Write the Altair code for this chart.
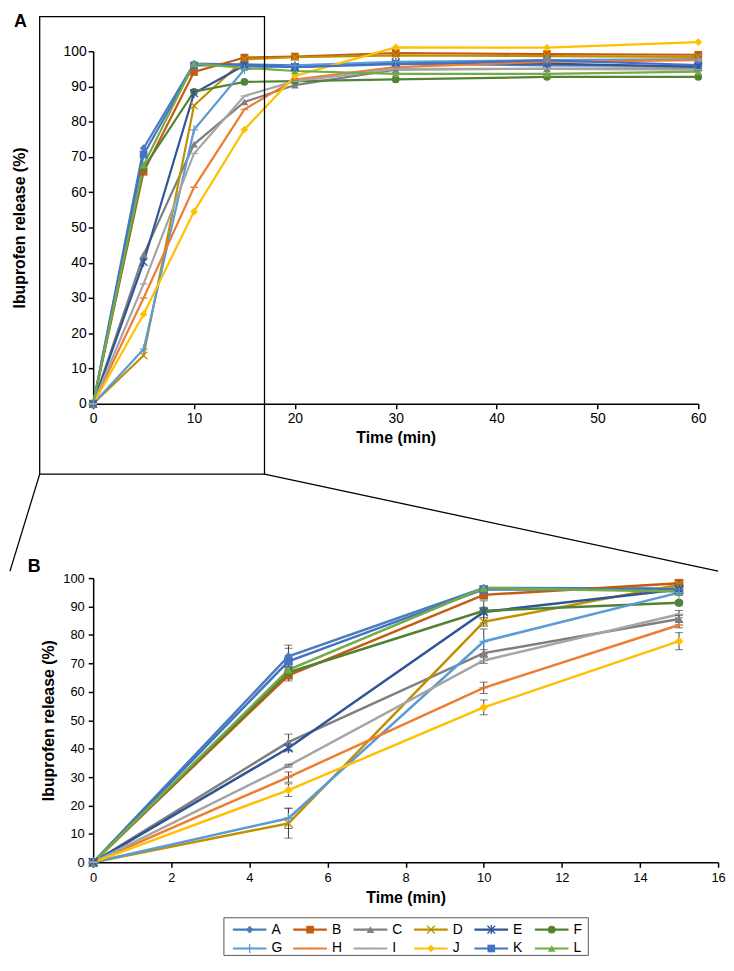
import altair as alt
import pandas as pd

FONT = "Liberation Sans"

series = ["A", "B", "C", "D", "E", "F", "G", "H", "I", "J", "K", "L"]
colors = ["#4A7EBB", "#C55A11", "#7F7F7F", "#BF9000", "#2F5597", "#548235",
          "#5B9BD5", "#ED7D31", "#A5A5A5", "#FFC000", "#4472C4", "#70AD47"]

times = [0, 5, 10, 15, 20, 30, 45, 60]
rel_A = [0, 72.5, 96.5, 96.3, 96.0, 96.5, 96.0, 95.8]
rel_B = [0, 65.8, 94.1, 98.2, 98.5, 99.5, 99.2, 99.0]
rel_C = [0, 42.3, 73.6, 85.6, 90.4, 94.8, 95.0, 95.2]
rel_D = [0, 13.7, 84.6, 97.7, 98.3, 98.8, 98.6, 98.4]
rel_E = [0, 40.2, 88.1, 96.0, 95.5, 96.8, 96.5, 95.6]
rel_F = [0, 66.8, 88.5, 91.3, 91.5, 92.0, 92.7, 92.7]
rel_G = [0, 15.5, 77.7, 94.9, 96.0, 97.0, 97.5, 97.8]
rel_H = [0, 30.0, 61.4, 83.5, 92.0, 95.5, 97.0, 97.5]
rel_I = [0, 34.0, 71.0, 87.3, 91.5, 95.0, 95.0, 94.8]
rel_J = [0, 25.4, 54.5, 77.8, 93.0, 101.1, 101.0, 102.6]
rel_K = [0, 70.7, 96.0, 96.1, 95.5, 96.3, 97.4, 96.1]
rel_L = [0, 67.7, 96.5, 95.3, 94.4, 93.6, 93.6, 94.2]

err_times = [5, 10, 15]
err_A = [3.9, 0.6, 0.8]
err_B = [2.0, 1.5, 0.6]
err_C = [2.8, 1.2, 1.2]
err_D = [5.2, 1.5, 0.8]
err_E = [1.0, 3.9, 0.8]
err_F = [1.5, 1.2, 0.8]
err_G = [3.6, 4.4, 1.0]
err_H = [1.8, 2.0, 1.0]
err_I = [0.5, 1.0, 1.3]
err_J = [2.2, 2.6, 3.0]
err_K = [4.6, 0.6, 0.8]
err_L = [1.2, 0.6, 0.8]

x_ticks_a = [0, 10, 20, 30, 40, 50, 60]
x_ticks_b = [0, 2, 4, 6, 8, 10, 12, 14, 16]
y_ticks = [0, 10, 20, 30, 40, 50, 60, 70, 80, 90, 100]

X_PATH = "M-1,-1L1,1M-1,1L1,-1"
AST_PATH = "M-1,-1L1,1M-1,1L1,-1M0,-1.2L0,1.2"
PLUS_PATH = "M-1,0L1,0M0,-1.2L0,1.2"
DASH_PATH = "M-1,0L1,0"
shapes = ["diamond", "square", "triangle-up", X_PATH, AST_PATH, "circle",
          PLUS_PATH, DASH_PATH, DASH_PATH, "diamond", "square", "triangle-up"]
filled_series = ["A", "B", "C", "F", "J", "K", "L"]
open_series = ["D", "E", "G", "H", "I"]

leg_col = [0, 1, 2, 3, 4, 5, 0, 1, 2, 3, 4, 5]
leg_row = [0, 0, 0, 0, 0, 0, 1, 1, 1, 1, 1, 1]

rel_lists = [rel_A, rel_B, rel_C, rel_D, rel_E, rel_F, rel_G, rel_H, rel_I, rel_J, rel_K, rel_L]
err_lists = [err_A, err_B, err_C, err_D, err_E, err_F, err_G, err_H, err_I, err_J, err_K, err_L]

rows = []
for s, vals in zip(series, rel_lists):
    for t, v in zip(times, vals):
        rows.append({"series": s, "time": t, "release": v})
df = pd.DataFrame(rows)
df_b = df[df["time"] <= 15].reset_index(drop=True)

erows = []
for s, vals, errs in zip(series, rel_lists, err_lists):
    for t, e in zip(err_times, errs):
        v = vals[times.index(t)]
        erows.append({"series": s, "time": t, "lo": v - e, "hi": v + e})
df_err = pd.DataFrame(erows)

df_leg = pd.DataFrame({"series": series, "col": leg_col, "row": leg_row})

color_enc = alt.Color("series:N", scale=alt.Scale(domain=series, range=colors), legend=None)
shape_enc = alt.Shape("series:N", scale=alt.Scale(domain=series, range=shapes), legend=None)


def x_axis(ticks, fs, lpad, tpad):
    return alt.Axis(values=ticks, title="Time (min)", tickSize=5, tickWidth=1.5,
                    domainWidth=1.5, labelFontSize=fs, labelPadding=lpad,
                    titleFontSize=16, titleFontWeight="bold", titlePadding=tpad,
                    labelFlush=False, labelOverlap=False, grid=False)


def y_axis(fs, lpad, tpad):
    return alt.Axis(values=y_ticks, title="Ibuprofen release (%)", tickSize=5, tickWidth=1.5,
                    domainWidth=1.5, labelFontSize=fs, labelPadding=lpad,
                    titleFontSize=16, titleFontWeight="bold", titlePadding=tpad,
                    labelFlush=False, labelOverlap=False, grid=False)


def series_layers(data, x, y, lw, msize, swidth):
    base = alt.Chart(data).encode(x=x, y=y, color=color_enc)
    line = base.mark_line(strokeWidth=lw)
    pf = base.transform_filter(
        alt.FieldOneOfPredicate(field="series", oneOf=filled_series)
    ).mark_point(filled=True, opacity=1, size=msize).encode(shape=shape_enc)
    po = base.transform_filter(
        alt.FieldOneOfPredicate(field="series", oneOf=open_series)
    ).mark_point(filled=False, opacity=1, size=msize, strokeWidth=swidth).encode(shape=shape_enc)
    return line, pf, po


one = alt.Data(values=[{"k": 0}])

# ---------- Panel A ----------
xsa = alt.Scale(domain=[0, 60], nice=False, zero=False)
ysa = alt.Scale(domain=[0, 100], nice=False)
xa = alt.X("time:Q", scale=xsa, axis=x_axis(x_ticks_a, 14, 3, 4))
ya = alt.Y("release:Q", scale=ysa, axis=y_axis(14, 2, 36))
la, pfa, poa = series_layers(df, xa, ya, 2.2, 60, 1.3)

box = alt.Chart(one).mark_rect(fillOpacity=0, stroke="black", strokeWidth=1.3).encode(
    x=alt.value(-54), x2=alt.value(173), y=alt.value(-35), y2=alt.value(427))
conn_l = alt.Chart(one).mark_rule(color="black", strokeWidth=1.3).encode(
    x=alt.value(-54), y=alt.value(427), x2=alt.value(-84), y2=alt.value(525))
conn_r = alt.Chart(one).mark_rule(color="black", strokeWidth=1.3).encode(
    x=alt.value(173), y=alt.value(427), x2=alt.value(631), y2=alt.value(525))
lab_a = alt.Chart(one).mark_text(fontSize=18, fontWeight="bold", align="left",
                                 baseline="top", font=FONT).encode(
    x=alt.value(-80), y=alt.value(-38), text=alt.value("A"))

panel_a = alt.layer(la, pfa, poa, box, conn_l, conn_r, lab_a).properties(width=611, height=356)

# ---------- Panel B ----------
xsb = alt.Scale(domain=[0, 16], nice=False, zero=False)
ysb = alt.Scale(domain=[0, 100], nice=False)
ax_xb = x_axis(x_ticks_b, 13, 4, 6)
ax_yb = y_axis(13, 4, 6)
xb = alt.X("time:Q", scale=xsb, axis=ax_xb)
yb = alt.Y("release:Q", scale=ysb, axis=ax_yb)
lb, pfb, pob = series_layers(df_b, xb, yb, 2.5, 75, 1.4)

err_rule = alt.Chart(df_err).mark_rule(color="#404040", strokeWidth=1).encode(
    x=alt.X("time:Q", scale=xsb, axis=ax_xb),
    y=alt.Y("lo:Q", scale=ysb, axis=ax_yb), y2="hi:Q")
err_lo = alt.Chart(df_err).mark_tick(color="#404040", thickness=1, size=8, orient="horizontal").encode(
    x=alt.X("time:Q", scale=xsb, axis=ax_xb),
    y=alt.Y("lo:Q", scale=ysb, axis=ax_yb))
err_hi = alt.Chart(df_err).mark_tick(color="#404040", thickness=1, size=8, orient="horizontal").encode(
    x=alt.X("time:Q", scale=xsb, axis=ax_xb),
    y=alt.Y("hi:Q", scale=ysb, axis=ax_yb))
lab_b = alt.Chart(one).mark_text(fontSize=18, fontWeight="bold", align="left",
                                 baseline="top", font=FONT).encode(
    x=alt.value(-66), y=alt.value(-20), text=alt.value("B"))

panel_b = alt.layer(lb, err_rule, err_lo, err_hi, pfb, pob, lab_b).properties(width=631, height=287)

# ---------- Legend ----------
lxs = alt.Scale(domain=[0, 6], range=[141, 507])
lys = alt.Scale(domain=[0, 1], range=[12, 31])
leg_base = alt.Chart(df_leg).transform_calculate(
    x1="datum.col + 0.557", xm="datum.col + 0.279", xt="datum.col + 0.64")
leg_stub = leg_base.mark_rule(strokeWidth=2.2).encode(
    x=alt.X("col:Q", scale=lxs, axis=None), x2="x1:Q",
    y=alt.Y("row:Q", scale=lys, axis=None), color=color_enc)
leg_pf = leg_base.transform_filter(
    alt.FieldOneOfPredicate(field="series", oneOf=filled_series)
).mark_point(filled=True, opacity=1, size=60).encode(
    x=alt.X("xm:Q", scale=lxs, axis=None), y=alt.Y("row:Q", scale=lys, axis=None),
    color=color_enc, shape=shape_enc)
leg_po = leg_base.transform_filter(
    alt.FieldOneOfPredicate(field="series", oneOf=open_series)
).mark_point(filled=False, opacity=1, size=60, strokeWidth=1.3).encode(
    x=alt.X("xm:Q", scale=lxs, axis=None), y=alt.Y("row:Q", scale=lys, axis=None),
    color=color_enc, shape=shape_enc)
leg_txt = leg_base.mark_text(align="left", baseline="middle", fontSize=14, font=FONT,
                             color="black").encode(
    x=alt.X("xt:Q", scale=lxs, axis=None), y=alt.Y("row:Q", scale=lys, axis=None),
    text="series:N")
leg_box = alt.Chart(one).mark_rect(fillOpacity=0, stroke="#595959", strokeWidth=1).encode(
    x=alt.value(132), x2=alt.value(500), y=alt.value(0), y2=alt.value(38))

legend = alt.layer(leg_box, leg_stub, leg_pf, leg_po, leg_txt).properties(width=631, height=38)

lower = alt.vconcat(panel_b, legend, spacing=56, bounds="flush")
chart = alt.vconcat(panel_a, lower, spacing=176, bounds="flush").properties(
    padding=0
).configure_view(stroke="transparent").configure_axis(
    domainColor="black", tickColor="black", labelColor="black", titleColor="black",
    labelFont=FONT, titleFont=FONT
).configure_text(font=FONT)

chart.save("out.html", embed_options={"renderer": "svg", "actions": False})
